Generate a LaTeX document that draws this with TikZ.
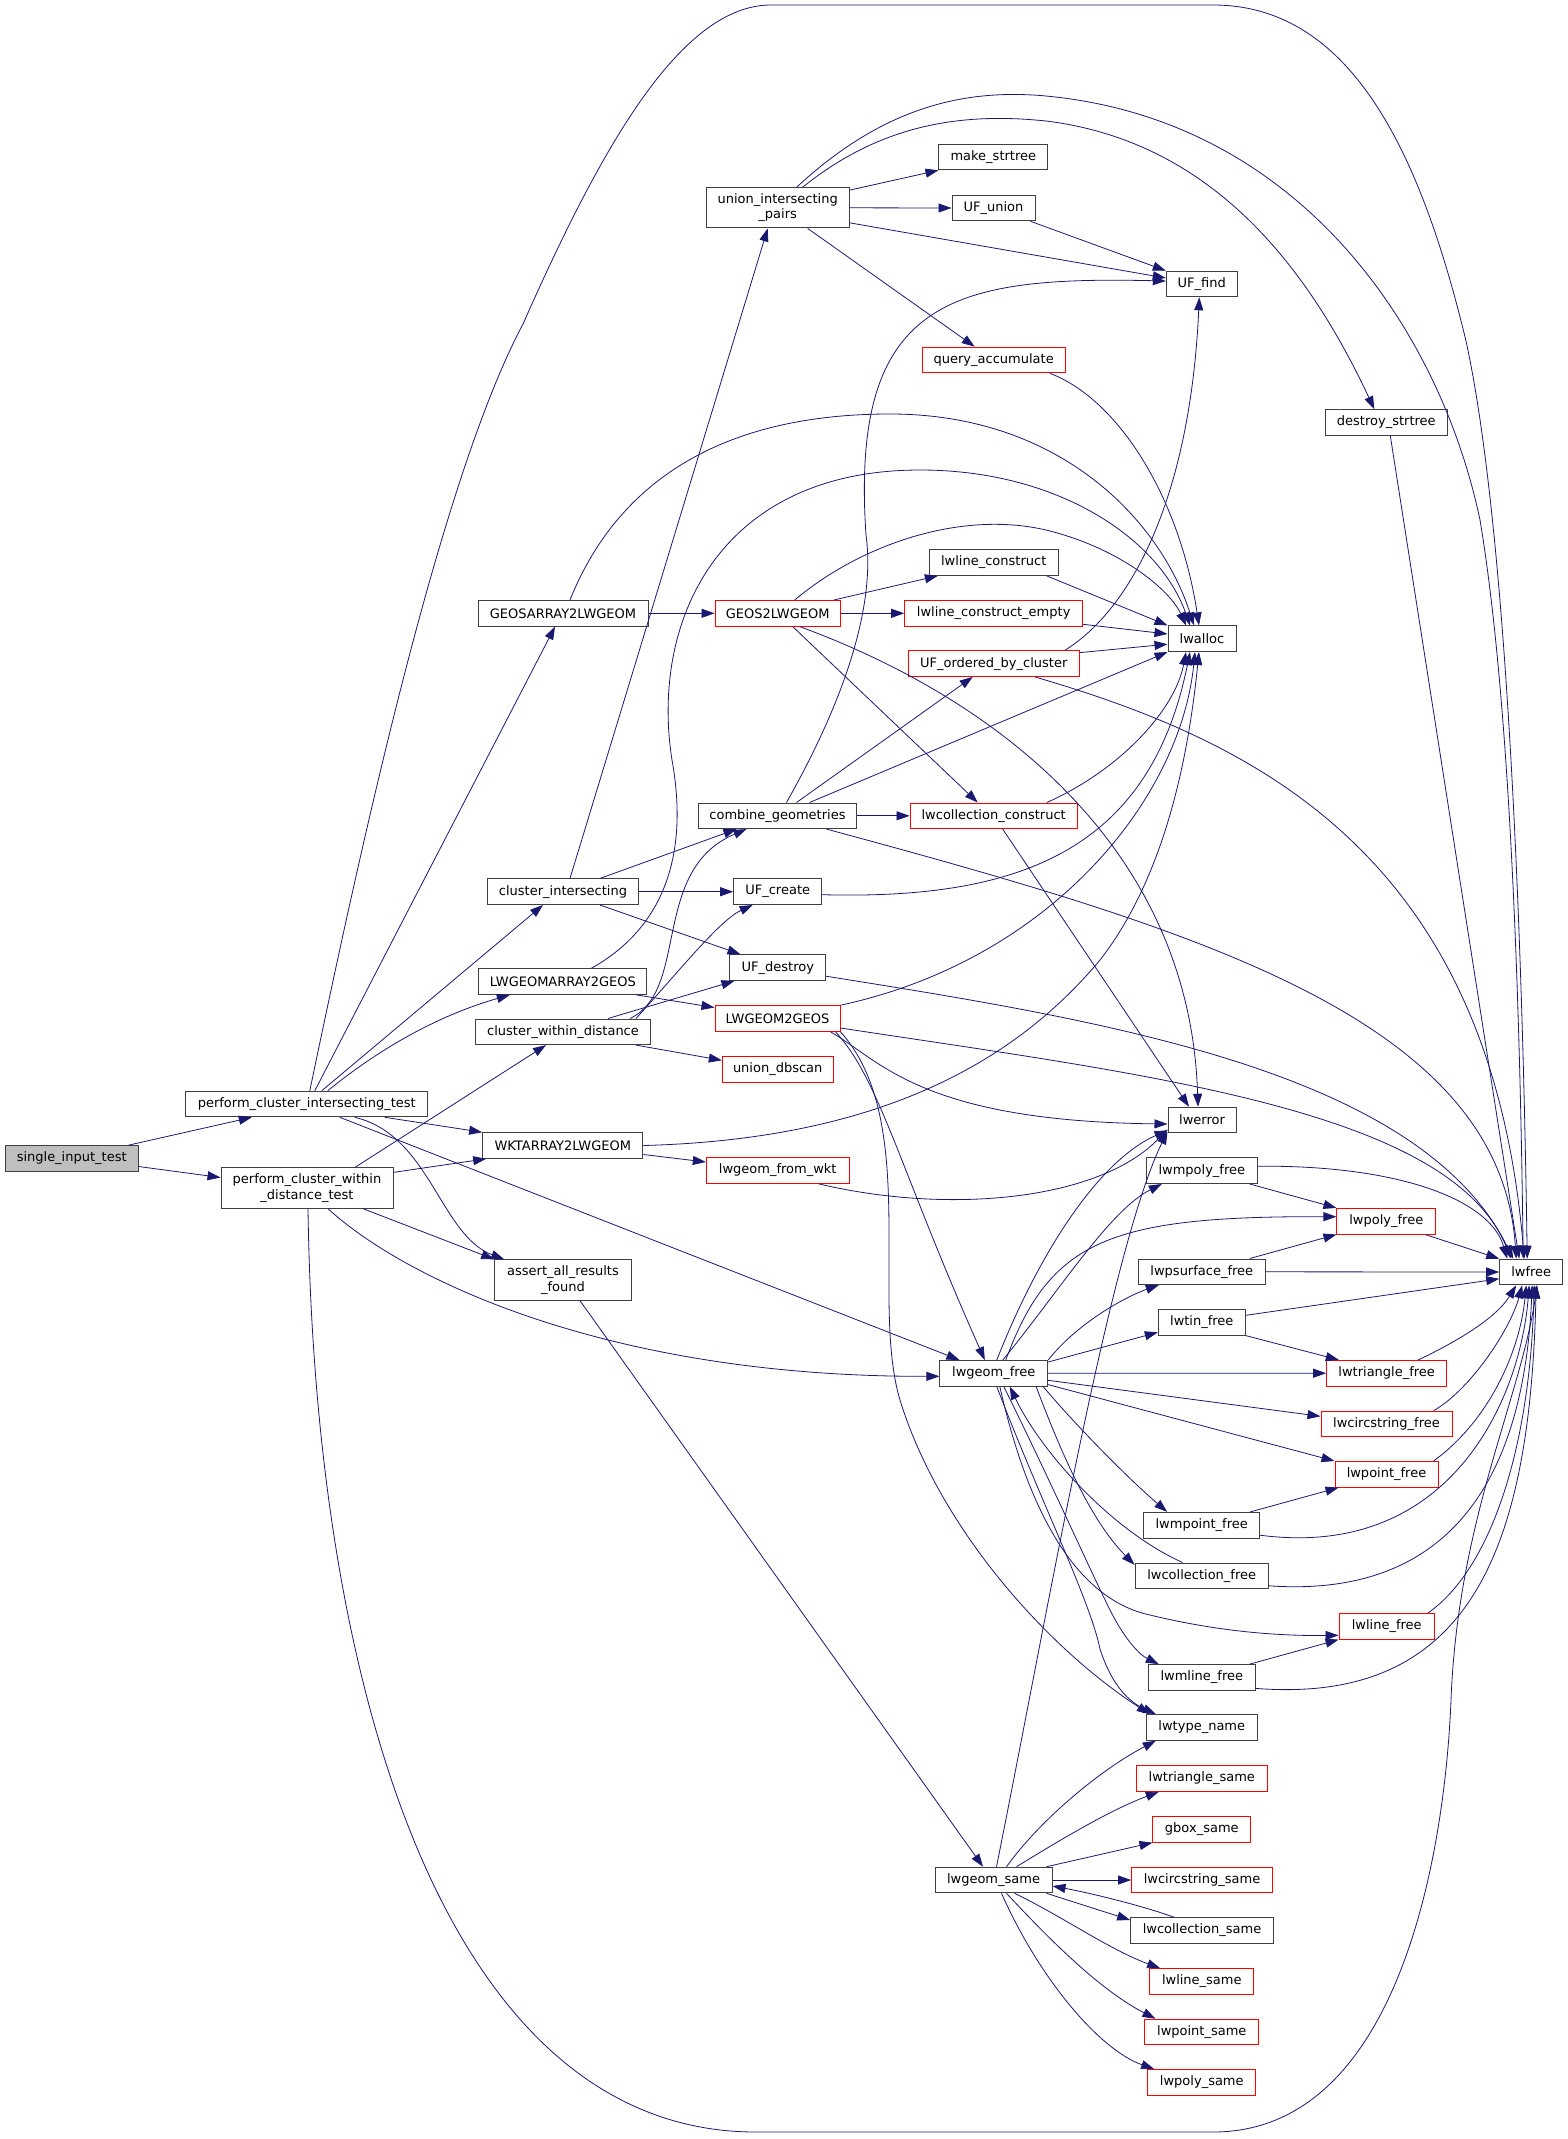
\documentclass[tikz,border=0pt]{standalone}
\usepackage{fontspec}
\setmainfont{DejaVu Sans}
\usetikzlibrary{arrows.meta}
\definecolor{midblue}{HTML}{191970}

\begin{document}
\begin{tikzpicture}[x=1pt, y=-1pt,
  fn/.style={draw=black!75, line width=1pt, fill=white, inner sep=0pt, minimum height=25.6pt, align=center, font=\fontsize{13}{15.4}\selectfont},
  fnred/.style={fn, draw=red},
  fnroot/.style={fn, fill=black!25},
  tall/.style={minimum height=40.3pt},
  call/.style={draw=midblue, line width=0.8pt, -{Triangle[length=13pt,width=9pt]}}]
	\useasboundingbox (0,0) rectangle (1568,2139);

	\node[fnroot, minimum width=133pt] (sit) at (71.7,1158.5) {single\_input\_test};
	\node[fn, minimum width=241.7pt] (pcit) at (306.8,1104) {perform\_cluster\_intersecting\_test};
	\node[fn, tall, minimum width=172pt] (pcwdt) at (307,1188) {perform\_cluster\_within\\\_distance\_test};
	\node[fn, minimum width=170pt] (geos2lwarr) at (563,613.3) {GEOSARRAY2LWGEOM};
	\node[fn, minimum width=151.4pt] (clint) at (563,891.7) {cluster\_intersecting};
	\node[fn, minimum width=168.3pt] (lw2geosarr) at (562.8,981.6) {LWGEOMARRAY2GEOS};
	\node[fn, minimum width=175.4pt] (clwd) at (563,1031.8) {cluster\_within\_distance};
	\node[fn, minimum width=160.3pt] (wkt2lw) at (562.8,1145.5) {WKTARRAY2LWGEOM};
	\node[fn, tall, minimum width=136.6pt] (aarf) at (563,1280) {assert\_all\_results\\\_found};
	\node[fn, tall, minimum width=142.7pt] (uip) at (777.7,207.8) {union\_intersecting\\\_pairs};
	\node[fnred, minimum width=125.3pt] (g2lw) at (777.7,613.3) {GEOS2LWGEOM};
	\node[fn, minimum width=158.4pt] (combg) at (777.5,815.8) {combine\_geometries};
	\node[fn, minimum width=88pt] (ufcreate) at (777.7,891.7) {UF\_create};
	\node[fn, minimum width=95.7pt] (ufdestroy) at (777.8,967.6) {UF\_destroy};
	\node[fnred, minimum width=125pt] (lw2g) at (777.5,1018.5) {LWGEOM2GEOS};
	\node[fnred, minimum width=110.7pt] (udbscan) at (777.7,1069.3) {union\_dbscan};
	\node[fnred, minimum width=142.7pt] (lwfromwkt) at (777.7,1170.5) {lwgeom\_from\_wkt};
	\node[fn, minimum width=108.7pt] (mkstr) at (993.3,157) {make\_strtree};
	\node[fn, minimum width=83pt] (ufunion) at (993.5,208) {UF\_union};
	\node[fnred, minimum width=143.3pt] (qacc) at (993.7,360) {query\_accumulate};
	\node[fn, minimum width=128.7pt] (lwlc) at (993.7,562.5) {lwline\_construct};
	\node[fnred, minimum width=178pt] (lwlce) at (993.7,613.3) {lwline\_construct\_empty};
	\node[fnred, minimum width=171.3pt] (ufobc) at (993.7,663.6) {UF\_ordered\_by\_cluster};
	\node[fnred, minimum width=167.3pt] (lwcc) at (993.7,815.8) {lwcollection\_construct};
	\node[fn, minimum width=107.7pt] (lwgfree) at (993.8,1373.3) {lwgeom\_free};
	\node[fn, minimum width=117pt] (lwgsame) at (993.5,1880) {lwgeom\_same};
	\node[fn, minimum width=71pt] (ufind) at (1201.8,284) {UF\_find};
	\node[fn, minimum width=68pt] (lwalloc) at (1202,638.7) {lwalloc};
	\node[fn, minimum width=68pt] (lwerror) at (1202,1120) {lwerror};
	\node[fn, minimum width=111pt] (lwmpolyf) at (1201.8,1170.7) {lwmpoly\_free};
	\node[fn, minimum width=127pt] (lwpsurff) at (1201.8,1271.8) {lwpsurface\_free};
	\node[fn, minimum width=87pt] (lwtinf) at (1201.8,1322.3) {lwtin\_free};
	\node[fn, minimum width=116pt] (lwmpointf) at (1201.7,1525.2) {lwmpoint\_free};
	\node[fn, minimum width=133.3pt] (lwcollf) at (1201.7,1575.8) {lwcollection\_free};
	\node[fn, minimum width=107pt] (lwmlinef) at (1201.8,1677.4) {lwmline\_free};
	\node[fn, minimum width=111pt] (lwtypename) at (1201.8,1727.4) {lwtype\_name};
	\node[fnred, minimum width=131pt] (lwtris) at (1201.8,1778.5) {lwtriangle\_same};
	\node[fnred, minimum width=97.7pt] (gboxs) at (1201.8,1829.3) {gbox\_same};
	\node[fnred, minimum width=140.7pt] (lwcircs) at (1202,1880) {lwcircstring\_same};
	\node[fn, minimum width=142.7pt] (lwcolls) at (1202,1930.5) {lwcollection\_same};
	\node[fnred, minimum width=104.3pt] (lwlines) at (1201.8,1981.5) {lwline\_same};
	\node[fnred, minimum width=113.7pt] (lwpoints) at (1201.8,2032) {lwpoint\_same};
	\node[fnred, minimum width=108.3pt] (lwpolys) at (1201.8,2082.3) {lwpoly\_same};
	\node[fn, minimum width=122pt] (dstr) at (1386.3,422.5) {destroy\_strtree};
	\node[fnred, minimum width=98.7pt] (lwpolyf) at (1386.3,1221.2) {lwpoly\_free};
	\node[fnred, minimum width=120pt] (lwtrif) at (1386.7,1373.2) {lwtriangle\_free};
	\node[fnred, minimum width=131pt] (lwcircf) at (1386.5,1424) {lwcircstring\_free};
	\node[fnred, minimum width=103pt] (lwpointf) at (1386.5,1474.3) {lwpoint\_free};
	\node[fnred, minimum width=95.3pt] (lwlinef) at (1386.7,1626.3) {lwline\_free};
	\node[fn, minimum width=63pt] (lwfree) at (1531.2,1272) {lwfree};

	\draw[call] ([xshift=56.6pt]sit.north) -- ([xshift=-55pt]pcit.south);
	\draw[call] ([yshift=-8pt]sit.east) -- ([yshift=10.5pt]pcwdt.west);

	\draw[call] ([xshift=3pt]pcit.north) .. controls (360,850) and (440,480) .. (523,324) .. controls (600,150) and (680,5) .. (771,5) -- (1213,5) .. controls (1350,5) and (1420,150) .. (1466,341) .. controls (1505,520) and (1522,900) .. ([xshift=-4pt]lwfree.north);
	\draw[call] ([xshift=8pt]pcit.north) -- ([xshift=-8pt]geos2lwarr.south);
	\draw[call] ([xshift=15pt]pcit.north) -- ([xshift=-20pt]clint.south);
	\draw[call] ([xshift=21pt]pcit.north) .. controls (390,1040) and (450,1012) .. ([xshift=-53pt]lw2geosarr.south);
	\draw[call] ([xshift=78pt]pcit.south) -- (wkt2lw.north west);
	\draw[call] ([xshift=48pt]pcit.south) .. controls (430,1135) and (440,1235) .. ([xshift=10pt]aarf.north west);
	\draw[call] ([xshift=33pt]pcit.south) -- ([xshift=20pt]lwgfree.north west);

	\draw[call] ([xshift=48pt]pcwdt.north) -- ([xshift=-17pt]clwd.south);
	\draw[call] ([yshift=-5pt]pcwdt.north east) -- ([xshift=4pt]wkt2lw.south west);
	\draw[call] ([xshift=56pt]pcwdt.south) -- (aarf.north west);
	\draw[call] ([xshift=21pt]pcwdt.south) .. controls (400,1275) and (600,1377) .. ([yshift=-3pt]lwgfree.west);
	\draw[call] ([xshift=1pt]pcwdt.south) .. controls (315,1700) and (450,2132) .. (756,2132) -- (1213,2132) .. controls (1400,2132) and (1445,1850) .. (1451,1700) .. controls (1458,1520) and (1520,1400) .. ([xshift=6pt]lwfree.south);

	\draw[call] (geos2lwarr.east) -- (g2lw.west);
	\draw[call] ([xshift=7pt]geos2lwarr.north) .. controls (610,500) and (700,414) .. (890,414) .. controls (1060,414) and (1160,520) .. ([xshift=-8pt]lwalloc.north);

	\draw[call] ([xshift=7pt]clint.north) -- ([xshift=-10pt]uip.south);
	\draw[call] ([xshift=37pt]clint.north) -- ([xshift=-41pt]combg.south);
	\draw[call] (clint.east) -- (ufcreate.west);
	\draw[call] ([xshift=37pt]clint.south) -- ([xshift=11pt]ufdestroy.north west);

	\draw[call] ([xshift=-11pt]lw2geosarr.south east) -- ([yshift=11pt]lw2g.west);
	\draw[call] ([xshift=28.5pt]lw2geosarr.north) .. controls (660,930) and (690,860) .. (672,760) .. controls (650,620) and (720,470) .. (920,470) .. controls (1060,470) and (1160,540) .. ([xshift=-12pt]lwalloc.north);

	\draw[call] ([xshift=67pt]clwd.north) .. controls (690,990) and (650,870) .. ([xshift=-31pt]combg.south);
	\draw[call] ([xshift=73pt]clwd.north) .. controls (680,970) and (720,920) .. ([xshift=-25pt]ufcreate.south);
	\draw[call] ([xshift=45pt]clwd.north) -- ([xshift=5pt]ufdestroy.south west);
	\draw[call] ([xshift=73pt]clwd.south) -- ([yshift=9pt]udbscan.west);

	\draw[call] ([yshift=-9pt]wkt2lw.east) -- ([yshift=8.5pt]lwfromwkt.west);
	\draw[call] (wkt2lw.east) .. controls (850,1140) and (1000,1080) .. (1100,960) .. controls (1170,870) and (1190,740) .. ([xshift=-3pt]lwalloc.south);

	\draw[call] ([xshift=17pt]aarf.south) -- ([xshift=-10.5pt]lwgsame.north);

	\draw[call] ([yshift=-3pt]uip.north east) -- (mkstr.south west);
	\draw[call] (uip.east) -- (ufunion.west);
	\draw[call] ([yshift=-15pt]uip.east) -- ([yshift=6pt]ufind.west);
	\draw[call] ([xshift=30pt]uip.south) -- ([xshift=-19pt]qacc.north);
	\draw[call] ([xshift=19pt]uip.north) .. controls (880,110) and (960,88) .. (1046,96) .. controls (1300,120) and (1440,330) .. (1480,520) .. controls (1510,700) and (1520,1000) .. ([xshift=-8pt]lwfree.north);
	\draw[call] ([xshift=25pt]uip.north) .. controls (880,125) and (960,112) .. (1046,121) .. controls (1200,140) and (1300,250) .. ([xshift=-12pt]dstr.north);

	\draw[call] ([xshift=-5pt]ufunion.south east) -- (ufind.north west);
	\draw[call] ([xshift=-16pt]qacc.south east) .. controls (1120,400) and (1180,500) .. ([xshift=-3pt]lwalloc.north);
	\draw[call] ([xshift=4pt]dstr.south) -- ([xshift=20pt]lwfree.north west);

	\draw[call] ([xshift=-7pt]g2lw.north east) -- ([xshift=9pt]lwlc.south west);
	\draw[call] (g2lw.east) -- (lwlce.west);
	\draw[call] ([xshift=17pt]g2lw.north) .. controls (860,545) and (960,510) .. (1046,530) .. controls (1120,548) and (1170,590) .. ([xshift=-16pt]lwalloc.north);
	\draw[call] ([xshift=15pt]g2lw.south) -- ([xshift=-16pt]lwcc.north);
	\draw[call] ([xshift=22pt]g2lw.south) .. controls (1000,700) and (1190,850) .. ([xshift=-4pt]lwerror.north);

	\draw[call] ([xshift=-12pt]lwlc.south east) -- (lwalloc.north west);
	\draw[call] ([yshift=-11pt]lwlce.east) -- ([yshift=4.7pt]lwalloc.west);
	\draw[call] ([yshift=11pt]ufobc.east) -- ([yshift=-5.5pt]lwalloc.west);
	\draw[call] ([xshift=-15pt]ufobc.north east) .. controls (1130,610) and (1190,500) .. ([xshift=-2.5pt]ufind.south);
	\draw[call] ([xshift=-45pt]ufobc.south east) .. controls (1250,740) and (1490,850) .. ([xshift=-7pt]lwfree.north);

	\draw[call] (combg.east) -- (lwcc.west);
	\draw[call] ([xshift=19pt]combg.north) -- ([xshift=-21pt]ufobc.south);
	\draw[call] ([xshift=32pt]combg.north) -- (lwalloc.south west);
	\draw[call] ([xshift=9pt]combg.north) .. controls (850,690) and (875,600) .. (866,535) .. controls (850,300) and (950,276) .. ([yshift=3pt]ufind.west);
	\draw[call] ([xshift=49pt]combg.south) .. controls (1200,930) and (1500,1020) .. ([xshift=-15pt]lwfree.north);

	\draw[call] ([xshift=-31pt]lwcc.north east) .. controls (1120,770) and (1175,710) .. ([xshift=-16pt]lwalloc.south);
	\draw[call] ([xshift=9pt]lwcc.south) -- ([xshift=-13pt]lwerror.north);

	\draw[call] ([yshift=-3pt]ufcreate.east) .. controls (1020,900) and (1150,850) .. ([xshift=-12pt]lwalloc.south);
	\draw[call] ([yshift=-8.6pt]ufdestroy.east) .. controls (1100,1020) and (1420,1070) .. ([xshift=-18pt]lwfree.north);

	\draw[call] (lw2g.north east) .. controls (1050,960) and (1180,800) .. ([xshift=-7pt]lwalloc.south);
	\draw[call] ([yshift=-9.5pt]lw2g.east) .. controls (1150,1075) and (1450,1110) .. ([xshift=-20pt]lwfree.north);
	\draw[call] ([xshift=-10pt]lw2g.south east) .. controls (880,1060) and (920,1121) .. ([yshift=-4pt]lwerror.west);
	\draw[call] ([xshift=-5pt]lw2g.south east) .. controls (880,1080) and (900,1170) .. ([xshift=-9pt]lwgfree.north);
	\draw[call] (lw2g.south east) .. controls (920,1120) and (870,1300) .. (900,1400) .. controls (940,1530) and (1050,1650) .. ([xshift=4pt]lwtypename.north west);

	\draw[call] ([xshift=-31pt]lwfromwkt.south east) .. controls (950,1215) and (1100,1200) .. ([yshift=4pt]lwerror.south west);

	\draw[call] ([xshift=3pt]lwgfree.north) .. controls (1040,1250) and (1100,1160) .. ([yshift=3pt]lwerror.south west);
	\draw[call] ([xshift=9pt]lwgfree.north) .. controls (1060,1290) and (1110,1210) .. ([xshift=16pt]lwmpolyf.south west);
	\draw[call] ([xshift=12pt]lwgfree.north) .. controls (1050,1240) and (1110,1216) .. ([yshift=4.5pt]lwpolyf.west);
	\draw[call] (lwgfree.north east) .. controls (1080,1320) and (1130,1295) .. ([xshift=21pt]lwpsurff.south west);
	\draw[call] ([yshift=-2pt]lwgfree.north east) -- ([yshift=-10pt]lwtinf.west);
	\draw[call] (lwgfree.east) -- (lwtrif.west);
	\draw[call] ([yshift=-7pt]lwgfree.east) -- ([yshift=7.7pt]lwcircf.west);
	\draw[call] ([yshift=2pt]lwgfree.south east) -- (lwpointf.north west);
	\draw[call] ([xshift=-5pt]lwgfree.south east) .. controls (1080,1430) and (1130,1480) .. ([xshift=24pt]lwmpointf.north west);
	\draw[call] ([xshift=-12pt]lwgfree.south east) .. controls (1060,1450) and (1090,1520) .. ([yshift=11pt]lwcollf.west);
	\draw[call] ([xshift=-19pt]lwcollf.north) .. controls (1110,1530) and (1040,1450) .. ([xshift=16pt]lwgfree.south);
	\draw[call] ([xshift=6pt]lwgfree.south) .. controls (1030,1520) and (1080,1600) .. (1150,1615) .. controls (1220,1632) and (1280,1636) .. ([yshift=-9pt]lwlinef.west);
	\draw[call] ([xshift=10pt]lwgfree.south) .. controls (1050,1480) and (1090,1570) .. (1110,1610) .. controls (1125,1640) and (1140,1655) .. ([xshift=11pt]lwmlinef.north west);
	\draw[call] ([xshift=3pt]lwgfree.south) .. controls (1040,1500) and (1090,1600) .. (1100,1649) .. controls (1110,1680) and (1125,1700) .. ([xshift=10pt]lwtypename.north west);

	\draw[call] ([xshift=-8pt]lwmpolyf.south east) -- (lwpolyf.north west);
	\draw[call] ([yshift=4.5pt]lwmpolyf.east) .. controls (1400,1165) and (1490,1200) .. ([xshift=-24pt]lwfree.north);
	\draw[call] ([xshift=-11pt]lwpolyf.south east) -- (lwfree.north west);
	\draw[call] ([xshift=-16pt]lwpsurff.north east) -- (lwpolyf.south west);
	\draw[call] (lwpsurff.east) -- (lwfree.west);
	\draw[call] ([yshift=7pt]lwtinf.east) -- ([yshift=-6.8pt]lwfree.west);
	\draw[call] (lwtinf.south east) -- ([xshift=12.6pt]lwtrif.north west);
	\draw[call] ([xshift=-29pt]lwtrif.north east) .. controls (1450,1345) and (1495,1320) .. ([xshift=-15pt]lwfree.south);
	\draw[call] ([xshift=-19pt]lwcircf.north east) .. controls (1470,1390) and (1510,1330) .. ([xshift=-9pt]lwfree.south);
	\draw[call] ([xshift=-5pt]lwpointf.north east) .. controls (1490,1420) and (1520,1350) .. ([xshift=-5pt]lwfree.south);
	\draw[call] ([xshift=-10pt]lwmpointf.north east) -- ([xshift=4pt]lwpointf.south west);
	\draw[call] ([yshift=-10pt]lwmpointf.east) .. controls (1450,1560) and (1520,1400) .. ([xshift=-2pt]lwfree.south);
	\draw[call] ([yshift=-10pt]lwcollf.east) .. controls (1470,1600) and (1525,1450) .. ([xshift=1pt]lwfree.south);
	\draw[call] ([xshift=-7pt]lwlinef.north east) .. controls (1490,1570) and (1530,1450) .. ([xshift=3pt]lwfree.south);
	\draw[call] ([xshift=-6pt]lwmlinef.north east) -- (lwlinef.south west);
	\draw[call] ([yshift=-11pt]lwmlinef.east) .. controls (1470,1705) and (1530,1550) .. ([xshift=5pt]lwfree.south);

	\draw[call] ([xshift=3pt]lwgsame.north) .. controls (1050,1600) and (1110,1250) .. ([yshift=2pt]lwerror.south west);
	\draw[call] ([xshift=13pt]lwgsame.north) .. controls (1040,1820) and (1100,1770) .. ([xshift=10pt]lwtypename.south west);
	\draw[call] ([xshift=23pt]lwgsame.north) .. controls (1060,1840) and (1110,1810) .. ([xshift=23pt]lwtris.south west);
	\draw[call] ([xshift=-6pt]lwgsame.north east) -- (gboxs.south west);
	\draw[call] (lwgsame.east) -- (lwcircs.west);
	\draw[call] ([xshift=44pt]lwcolls.north west) .. controls (1140,1905) and (1090,1893) .. ([yshift=-6pt]lwgsame.east);
	\draw[call] ([xshift=-6pt]lwgsame.south east) -- ([yshift=10.5pt]lwcolls.west);
	\draw[call] ([xshift=21pt]lwgsame.south) .. controls (1060,1915) and (1110,1950) .. ([xshift=11pt]lwlines.north west);
	\draw[call] ([xshift=13pt]lwgsame.south) .. controls (1050,1940) and (1100,1990) .. ([xshift=11pt]lwpoints.north west);
	\draw[call] ([xshift=8pt]lwgsame.south) .. controls (1040,1980) and (1100,2050) .. ([xshift=7pt]lwpolys.north west);
\end{tikzpicture}
\end{document}
